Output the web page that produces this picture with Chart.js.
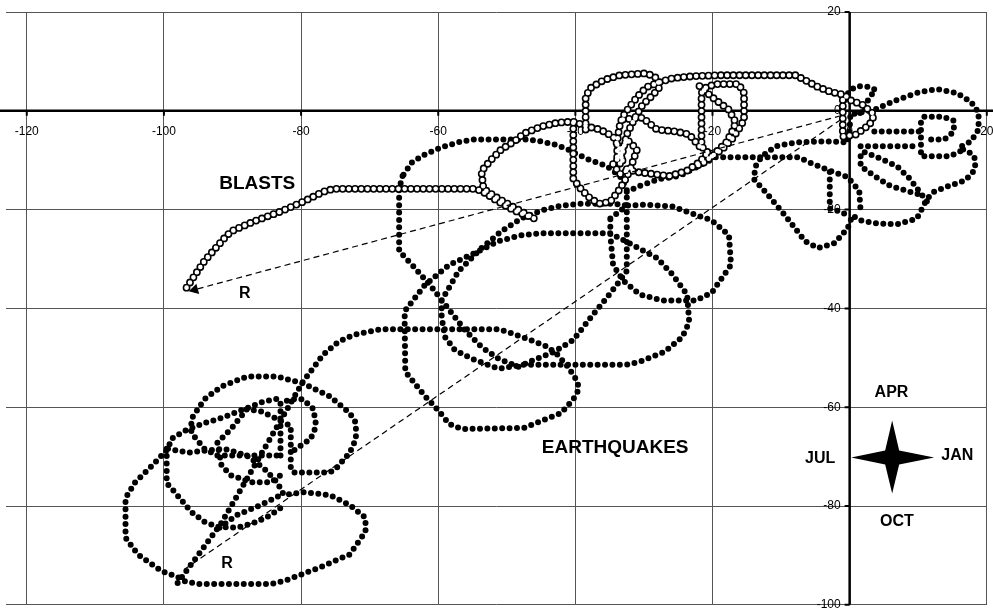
<!DOCTYPE html>
<html>
<head>
<meta charset="utf-8">
<script src="https://cdn.jsdelivr.net/npm/chart.js@4/dist/chart.umd.min.js"></script>
<style>
  html, body { margin: 0; padding: 0; background: #fff; }
  #wrap { width: 993px; height: 611px; position: relative; }
</style>
</head>
<body>
<div id="wrap"><canvas id="c"></canvas></div>
<script>
// ---- AXES ----
const xTicks = [-120, -100, -80, -60, -40, -20, 0, 20];
const yTicks = [20, 0, -20, -40, -60, -80, -100];

// ---- EARTHQUAKES track (x, y); null = break between traced pieces ----
const quakeTrack = [
  [0.7,-0.6],[3.6,0.2],[6.9,2.2],[10.2,3.8],[12.7,4.4],[15.6,3.6],[17.7,1.8],[18.8,-0.4],[18.8,-3.8],[17.7,-6.2],[16.0,-7.4],
  [17.9,-8.8],[18.3,-9.8],[18.3,-11.8],[17.5,-13.2],[16.6,-14.2],[14.1,-15.4],[12.3,-16.4],[11.3,-17.8],[9.8,-21.8],[6.9,-23.0],
  [4.0,-22.8],[1.6,-22.2],[0.4,-21.2],[-0.3,-23.8],[-2.2,-26.8],[-4.6,-27.8],[-6.5,-26.4],[-9.4,-21.2],[-12.3,-16.4],[-14.0,-13.8],
  [-13.7,-11.2],[-12.8,-9.2],[-10.8,-7.2],[-7.9,-6.4],[-3.2,-6.2],[-0.3,-6.4],[0.0,-3.8],[0.1,-0.8],null,
  [1.6,-9.2],[1.6,-11.2],[3.6,-13.2],[5.9,-15.2],[8.8,-16.4],[10.8,-17.2],null,
  [2.2,-8.4],[4.0,-9.4],[6.9,-11.2],[8.8,-13.8],[10.2,-16.4],[11.3,-18.4],null,
  [3.6,-4.2],[10.2,-4.2],null,
  [1.6,-7.2],[10.2,-7.2],null,
  [10.4,-2.4],[10.4,-9.2],[14.6,-9.2],[16.4,-8.0],null,
  [10.9,-1.2],[13.6,-1.2],[15.2,-2.0],[15.2,-4.2],[13.8,-5.8],[11.3,-5.8],null,
  [-0.7,2.2],[0.0,4.2],[1.2,5.0],[3.0,4.8],[3.8,4.2],[2.9,2.8],[2.2,0.8],[1.5,-0.5],null,
  [-2.9,-12.4],[-2.9,-19.8],[-1.3,-20.4],[-0.3,-21.2],null,
  [-65.2,-13.2],[-65.7,-15.8],[-65.7,-28.4],[-63.4,-31.8],[-60.9,-35.8],[-59.0,-39.2],[-56.1,-44.4],[-53.7,-47.8],[-51.2,-50.2],
  [-48.3,-51.8],[-46.0,-50.4],[-43.1,-48.8],[-40.3,-46.4],[-37.4,-41.2],[-35.4,-37.8],[-33.5,-34.4],[-32.5,-32.4],[-32.5,-15.8],
  [-33.5,-13.2],[-35.4,-11.2],[-38.2,-9.8],[-40.3,-8.4],[-41.1,-7.8],[-43.1,-6.8],[-45.0,-6.2],[-46.9,-5.8],[-49.8,-5.8],
  [-54.7,-5.8],[-56.6,-6.2],[-59.5,-7.4],[-61.9,-8.8],[-63.8,-10.4],[-65.2,-13.2],null,
  [-32.5,-16.4],[-30.6,-15.2],[-27.7,-13.8],[-24.8,-13.2],[-22.9,-11.8],[-20.9,-10.4],[-19.5,-9.4],[-7.5,-9.4],[-5.6,-10.6],
  [-3.5,-11.8],[-0.3,-13.4],[1.4,-16.2],[1.6,-20.4],null,
  [-34.9,-21.8],[-32.5,-19.2],[-29.6,-19.0],[-25.8,-19.4],[-20.1,-22.2],[-17.6,-25.2],[-17.3,-31.2],[-20.1,-36.8],[-22.4,-38.4],
  [-27.3,-38.4],[-30.6,-37.2],[-33.0,-34.4],[-34.5,-31.2],[-34.9,-25.2],[-34.9,-21.8],null,
  [-59.5,-38.4],[-57.0,-32.4],[-53.7,-27.8],[-50.8,-24.4],[-47.9,-21.8],[-45.0,-20.2],[-42.1,-19.2],[-39.2,-18.8],[-34.5,-18.8],[-32.5,-19.2],null,
  [-98.0,-95.6],[-91.6,-83.4],[-79.7,-54.8],[-76.8,-49.4],[-74.6,-46.8],[-72.4,-45.4],[-68.4,-44.2],[-51.2,-44.2],[-49.8,-44.8],
  [-46.9,-46.2],[-44.0,-47.8],[-42.6,-49.4],[-41.1,-51.8],[-39.7,-54.8],[-39.5,-56.4],[-40.3,-58.4],[-42.1,-61.2],[-45.0,-62.8],
  [-47.5,-64.2],[-56.6,-64.4],[-58.4,-63.4],[-59.9,-60.8],[-61.9,-57.8],[-64.8,-52.8],[-64.9,-41.8],[-64.8,-40.4],[-61.9,-35.2],
  [-58.4,-31.2],[-54.7,-28.8],[-51.2,-26.4],[-47.9,-25.2],[-45.0,-24.8],[-34.9,-24.8],[-31.6,-27.2],[-28.1,-29.8],[-25.8,-33.2],
  [-23.7,-37.2],[-23.4,-42.8],[-24.4,-45.8],[-27.0,-48.8],[-30.6,-50.8],[-32.5,-51.4],[-47.5,-51.4],[-51.2,-52.2],[-55.1,-50.2],
  [-57.6,-48.4],[-59.0,-45.8],[-59.5,-41.8],[-59.5,-38.4],null,
  [-92.2,-69.8],[-94.1,-68.4],[-96.0,-65.2],[-96.0,-62.4],[-94.1,-58.4],[-91.6,-55.8],[-87.9,-53.8],[-83.5,-53.8],[-79.7,-55.2],
  [-75.8,-57.8],[-72.9,-61.2],[-72.0,-63.2],[-72.0,-66.4],[-72.9,-69.2],[-74.9,-72.4],[-75.8,-73.2],[-81.1,-73.2],[-81.5,-72.4],
  [-81.5,-63.8],[-83.5,-62.4],[-85.9,-60.8],[-87.9,-60.4],[-90.2,-64.4],[-92.2,-67.2],[-91.6,-71.8],[-90.2,-73.8],[-87.3,-75.2],
  [-84.4,-75.2],[-83.0,-73.8],null,
  [-83.0,-69.8],[-83.0,-59.2],[-81.5,-58.4],[-79.7,-58.4],[-78.2,-60.4],[-77.8,-63.8],[-78.6,-66.4],[-80.7,-68.4],[-81.5,-69.2],null,
  [-92.2,-69.8],[-82.5,-69.8],null,
  [-99.4,-68.4],[-96.5,-69.2],[-94.1,-68.8],[-91.2,-68.4],[-87.9,-69.8],[-85.4,-72.4],[-83.5,-75.2],[-82.5,-77.8],[-79.7,-77.2],
  [-75.8,-77.8],[-72.9,-79.8],[-70.6,-82.4],[-70.6,-85.2],[-72.9,-89.8],[-77.2,-92.4],[-82.5,-95.2],[-84.4,-95.8],[-95.1,-95.8],
  [-97.0,-95.2],[-98.0,-94.4],[-100.3,-93.2],[-103.8,-89.8],[-105.6,-86.4],[-105.6,-78.4],[-104.2,-75.2],[-101.7,-71.8],
  [-99.4,-68.4],[-98.9,-66.4],[-97.0,-64.8],[-94.1,-63.2],[-91.6,-62.2],[-88.3,-60.4],[-85.4,-58.8],[-83.0,-58.2],null,
  [-91.9,-84.4],[-89.3,-81.8],[-85.9,-79.8],[-83.0,-77.8],null,
  [-99.6,-68.4],[-99.6,-75.4],[-98.9,-76.4],[-96.0,-81.2],[-94.1,-83.2],[-92.2,-84.2],[-89.3,-84.4],[-86.4,-83.2],[-84.4,-81.8],[-83.0,-80.4]
];

// ---- BLASTS track ----
const blastTrack = [
  [-96.7,-35.8],[-94.1,-30.4],[-91.2,-25.8],[-90.2,-24.4],[-86.9,-22.4],[-83.0,-20.4],[-79.7,-18.4],[-76.8,-16.4],[-75.3,-15.8],
  [-54.7,-15.8],[-53.7,-16.2],[-51.2,-18.4],[-48.9,-20.2],[-46.0,-21.8],[-48.6,-19.8],[-51.2,-17.8],[-53.4,-15.8],[-53.7,-12.2],
  [-52.2,-9.8],[-50.8,-7.8],[-48.9,-6.2],[-47.5,-4.6],[-45.0,-3.2],[-42.6,-2.4],[-40.3,-2.2],[-38.2,-3.2],[-36.4,-3.8],[-34.5,-5.2],
  [-33.5,-7.8],[-33.0,-10.8],null,
  [-1.0,2.2],[-1.0,-5.2],[0.9,-4.8],[2.9,-2.8],[3.6,-0.8],[1.9,1.2],[0.0,2.2],[-0.7,3.2],[-2.7,3.8],[-4.6,4.8],[-6.5,6.2],
  [-7.9,7.2],[-19.0,7.2],[-22.9,7.0],[-25.8,6.6],[-27.7,5.8],[-29.6,4.8],[-31.0,2.8],[-32.2,0.6],[-33.2,-1.4],[-33.6,-3.4],
  [-33.9,-6.4],[-33.9,-9.8],null,
  [-38.5,-3.8],[-38.5,2.8],[-37.8,4.6],[-35.9,6.2],[-33.5,7.2],[-29.6,7.6],[-28.1,6.6],[-27.7,4.8],[-28.7,3.2],[-30.2,1.2],
  [-31.3,-1.4],[-32.5,-4.8],[-33.0,-7.8],[-33.5,-10.8],null,
  [-20.1,-9.2],[-21.6,-7.2],[-21.6,3.6],[-20.9,4.8],[-19.5,5.4],[-16.2,5.4],[-15.4,3.6],[-15.4,-1.8],[-16.2,-3.8],[-17.2,-5.8],
  [-18.6,-7.8],[-20.1,-9.2],[-21.2,-10.4],[-22.7,-11.4],null,
  [-21.9,5.0],[-20.1,2.8],[-17.6,0.2],[-16.6,-2.4],[-17.2,-4.4],[-18.0,-6.4],[-19.5,-8.4],null,
  [-21.9,-7.2],[-23.4,-4.8],[-25.3,-4.2],[-28.1,-3.8],[-30.2,-1.4],[-33.5,-1.8],null,
  [-32.5,-11.8],[-31.0,-12.4],[-26.3,-13.2],[-23.8,-12.2],[-21.9,-10.4],[-20.9,-8.8],null,
  [-40.3,-2.4],[-40.3,-13.8],[-39.2,-15.8],[-37.8,-17.8],[-36.4,-18.8],[-34.9,-18.4],[-33.5,-15.8],[-32.5,-13.4],[-32.0,-11.8],null,
  [-33.9,-9.8],[-32.5,-5.8],[-31.0,-7.8],[-32.0,-11.8],[-33.5,-12.8],[-34.5,-10.8],[-33.9,-9.8]
];

// resultant vectors R (start, end)
const quakeR = [[-1.3, -1.8], [-97.0, -92.8]];
const blastR = [[-1.3, -1.0], [-95.5, -36.2]];

// text notes and compass, in chart units
const notes = [
  { text: 'BLASTS', x: -86.4, y: -14.4, big: true },
  { text: 'EARTHQUAKES', x: -34.2, y: -67.8, big: true },
  { text: 'R', x: -88.2, y: -36.8 },
  { text: 'R', x: -90.8, y: -91.4 },
  { text: 'APR', x: 6.1, y: -56.8 },
  { text: 'JUL', x: -4.3, y: -70.2 },
  { text: 'JAN', x: 15.7, y: -69.6 },
  { text: 'OCT', x: 6.9, y: -82.8 }
];
const compass = { x: 6.2, y: -70.2 };

const toPts = arr => arr.map(p => p ? { x: p[0], y: p[1] } : { x: null, y: null });
const FONT = '"Liberation Sans", Arial, sans-serif';

const overlay = {
  id: 'overlay',
  beforeDatasetsDraw(chart) {
    const { ctx, chartArea: a, scales: { x, y } } = chart;
    const x0 = x.getPixelForValue(0), y0 = y.getPixelForValue(0);
    ctx.save();
    ctx.strokeStyle = '#000';
    ctx.lineWidth = 2.5;
    ctx.beginPath();
    ctx.moveTo(0, y0); ctx.lineTo(chart.width, y0);
    ctx.moveTo(x0, a.top); ctx.lineTo(x0, a.bottom);
    ctx.stroke();
    ctx.lineWidth = 2;
    ctx.beginPath();
    xTicks.forEach(v => { const px = x.getPixelForValue(v); ctx.moveTo(px, y0); ctx.lineTo(px, y0 + 5); });
    yTicks.forEach(v => { const py = y.getPixelForValue(v); ctx.moveTo(x0 - 5, py); ctx.lineTo(x0, py); });
    ctx.stroke();
    ctx.fillStyle = '#000';
    ctx.font = '12px ' + FONT;
    ctx.textBaseline = 'middle';
    ctx.textAlign = 'center';
    xTicks.forEach(v => ctx.fillText(String(v), x.getPixelForValue(v), y0 + 21));
    ctx.textAlign = 'right';
    yTicks.forEach(v => ctx.fillText(String(v), x0 - 9, y.getPixelForValue(v)));
    ctx.restore();
  },
  afterDatasetsDraw(chart) {
    const { ctx, scales: { x, y } } = chart;
    ctx.save();
    ctx.fillStyle = '#000';
    ctx.textAlign = 'center';
    ctx.textBaseline = 'alphabetic';
    notes.forEach(n => {
      const size = n.big ? 19 : 16;
      ctx.font = 'bold ' + size + 'px ' + FONT;
      ctx.fillText(n.text, x.getPixelForValue(n.x), y.getPixelForValue(n.y) + size * 0.36);
    });
    // four-pointed star
    const cx = x.getPixelForValue(compass.x), cy = y.getPixelForValue(compass.y);
    ctx.beginPath();
    ctx.moveTo(cx, cy - 37); ctx.lineTo(cx + 7, cy - 7); ctx.lineTo(cx + 42, cy); ctx.lineTo(cx + 7, cy + 7);
    ctx.lineTo(cx, cy + 36); ctx.lineTo(cx - 7, cy + 7); ctx.lineTo(cx - 41, cy); ctx.lineTo(cx - 7, cy - 7);
    ctx.closePath();
    ctx.fill();
    ctx.restore();
  }
};

const dotted = (data, color, width, gap, order) => ({
  data: toPts(data), borderColor: color, borderWidth: width, borderDash: [0, gap],
  borderCapStyle: 'round', pointRadius: 0, spanGaps: false, order
});

new Chart(document.getElementById('c'), {
  type: 'line',
  data: {
    datasets: [
      { data: toPts(blastR), borderColor: '#000', borderWidth: 1.2, borderDash: [6, 4],
        pointRadius: [0, 5], pointStyle: 'triangle', pointRotation: 255,
        pointBackgroundColor: '#000', pointBorderColor: '#000', order: 0 },
      { data: toPts(quakeR), borderColor: '#000', borderWidth: 1.2, borderDash: [6, 4], pointRadius: 0, order: 0 },
      dotted(blastTrack, '#fff', 4.6, 6.2, 1),
      dotted(blastTrack, '#000', 7.8, 6.2, 2),
      dotted(quakeTrack, '#000', 6, 7.4, 3)
    ]
  },
  options: {
    responsive: true,
    maintainAspectRatio: false,
    animation: false,
    layout: { padding: { top: 12, right: 2, bottom: 1, left: 0 } },
    plugins: { legend: { display: false }, tooltip: { enabled: false } },
    scales: {
      x: {
        type: 'linear', min: -123, max: 20,
        afterBuildTicks: s => { s.ticks = xTicks.map(v => ({ value: v })); },
        grid: { color: '#555', lineWidth: 1, drawTicks: false },
        border: { display: false },
        ticks: { display: false }
      },
      y: {
        type: 'linear', min: -100, max: 20,
        afterBuildTicks: s => { s.ticks = yTicks.map(v => ({ value: v })); },
        grid: { color: '#555', lineWidth: 1, drawTicks: false },
        border: { display: false },
        ticks: { display: false }
      }
    }
  },
  plugins: [overlay]
});
</script>
</body>
</html>
